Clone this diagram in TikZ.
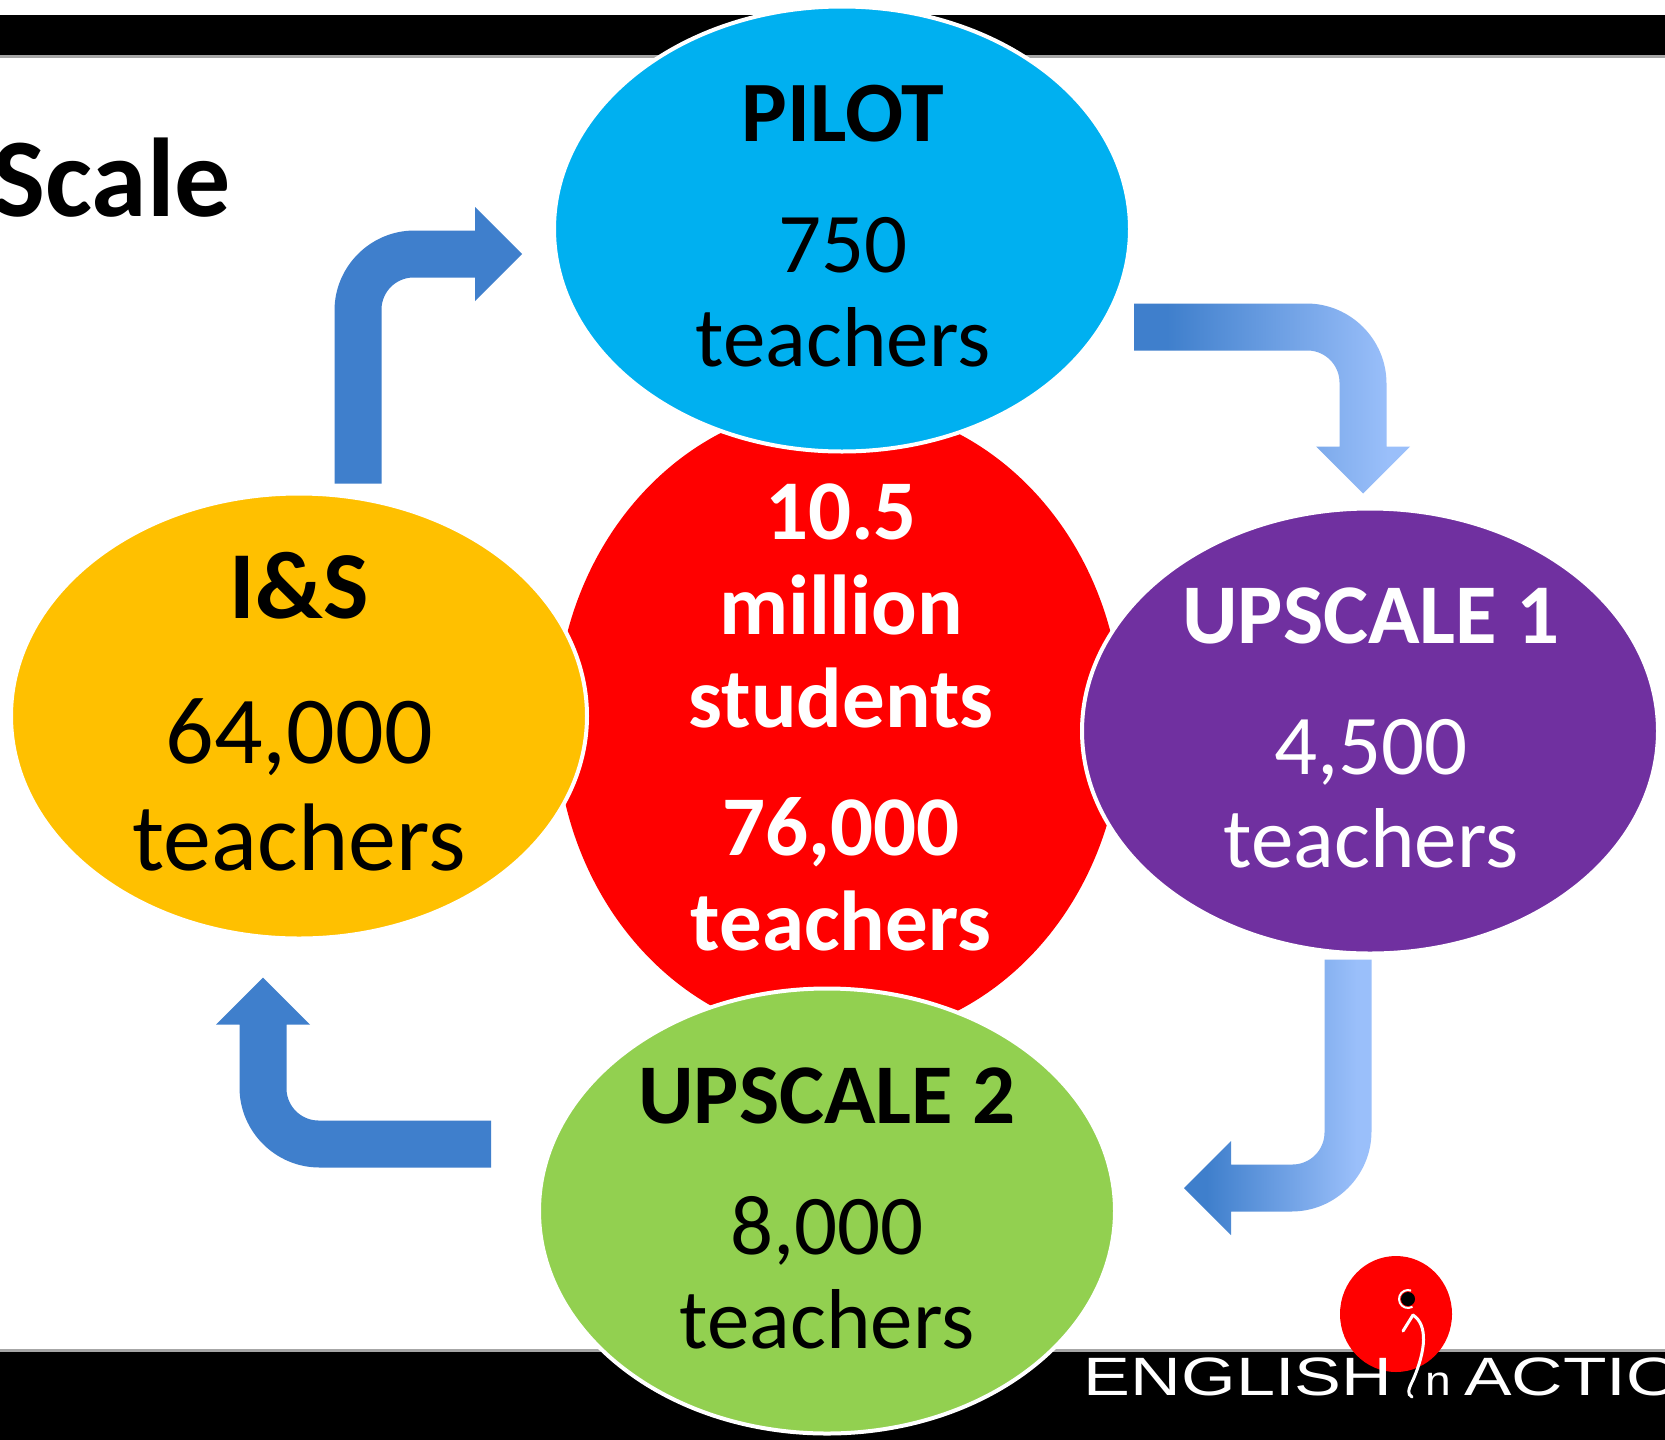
\documentclass[tikz,border=0pt]{standalone}
\usepackage{fontspec}
\usepackage{graphicx}
\usepackage{tikz}
\usetikzlibrary{shapes.geometric,calc}
\setmainfont{Carlito}
\newfontfamily\logofont{Liberation Sans}
\definecolor{pilotblue}{HTML}{00B0F0}
\definecolor{amber}{HTML}{FFC000}
\definecolor{upurple}{HTML}{7030A0}
\definecolor{ugreen}{HTML}{92D050}
\definecolor{arrowblue}{HTML}{3F7FCC}
\definecolor{arrowlight}{HTML}{9ABFFA}
\pgfdeclarehorizontalshading{fadeblue}{100bp}{color(0bp)=(arrowblue); color(31bp)=(arrowblue); color(71bp)=(arrowlight); color(100bp)=(arrowlight)}
\newcommand{\sz}[1]{\fontsize{#1}{#1}\selectfont}
\tikzset{
	stage/.style={ellipse,draw=white,line width=4,inner sep=0,minimum width=576,minimum height=445},
	lab/.style={anchor=base,inner sep=0,text=black},
	solidarrow/.style={fill=arrowblue},
	fadearrow/.style={shading=fadeblue},
}
% style, from, corner, to
\newcommand{\bendarrow}[4]{
	\coordinate (bf) at (#2);
	\coordinate (bc) at (#3);
	\coordinate (bt) at (#4);
	\coordinate (bh) at ($(bt)!47pt!(bc)$);
	\coordinate (bl) at ($(bc)!23.5pt!-90:(bf)$);
	\coordinate (br) at ($(bc)!23.5pt!90:(bt)$);
	\coordinate (bo) at ($(bl)+(br)-(bc)$);
	\coordinate (bi) at ($2*(bc)-(bo)$);
	\coordinate (fl) at ($(bf)!23.5pt!90:(bc)$);
	\coordinate (fr) at ($(bf)!23.5pt!-90:(bc)$);
	\coordinate (hl) at ($(bh)!23.5pt!90:(bt)$);
	\coordinate (hr) at ($(bh)!23.5pt!-90:(bt)$);
	\coordinate (ol) at ($(bo)!80pt!(fl)$);
	\coordinate (oh) at ($(bo)!80pt!(hl)$);
	\coordinate (il) at ($(bi)!32pt!(fr)$);
	\coordinate (ih) at ($(bi)!32pt!(hr)$);
	\path[#1] (fl) -- (ol) .. controls ($(ol)!.55!(bo)$) and ($(oh)!.55!(bo)$) .. (oh) -- (hl)
		-- ($(bh)!47pt!90:(bt)$) -- (bt) -- ($(bh)!47pt!-90:(bt)$) -- (hr)
		-- (ih) .. controls ($(ih)!.55!(bi)$) and ($(il)!.55!(bi)$) .. (il) -- (fr) -- cycle;
}
\begin{document}
\begin{tikzpicture}[x=1pt,y=-1pt]
	\useasboundingbox (0,0) rectangle (1665,1440);
	\begin{scope}
	\clip (0,0) rectangle (1665,1440);
	\fill[white] (0,0) rectangle (1665,1440);
	% bars
	\fill[black!35] (0,15) rectangle (1665,58);
	\fill[black] (0,15) rectangle (1665,55);
	\fill[black!35] (0,1349) rectangle (1665,1440);
	\fill[black] (0,1352) rectangle (1665,1440);
	\node (title) at(231,216) [anchor=base east,inner sep=0,font=\bfseries\sz{112}]{Scale};
	% logo
	\node (logodot) at(1396,1314) [ellipse,fill=red,inner sep=0,minimum width=112,minimum height=116]{};
	\fill[black] (1408,1299) circle(7);
	\draw[white,line width=2] (1408,1299) ++(290:9) arc[start angle=290,end angle=60,radius=9];
	\draw[white,line width=3,line cap=round] (1413,1315) .. controls (1428,1325) and (1426,1350) .. (1413,1380) .. controls (1408,1390) and (1407,1394) .. (1412,1397);
	\draw[white,line width=3,line cap=round] (1413,1315) -- (1403,1331);
	\node (logoleft) at(1238,1395) [anchor=base,inner sep=0,text=white,font=\logofont\sz{54}]{\scalebox{1.3}[1]{ENGLISH}};
	\node (logon) at(1438,1395) [anchor=base,inner sep=0,text=white,font=\logofont\sz{42}]{\scalebox{1.1}[1]{n}};
	\node (logoright) at(1464,1395) [anchor=base west,inner sep=0,text=white,font=\logofont\sz{54}]{\scalebox{1.32}[1]{ACTIO}};
	% ellipses
	\node (centre) at(839,722) [ellipse,fill=red,inner sep=0,minimum width=566,minimum height=636]{};
	\node (pilot) at(842,229) [stage,fill=pilotblue]{};
	\node (inspect) at(299,716) [stage,fill=amber]{};
	\node (upone) at(1370,731) [stage,fill=upurple]{};
	\node (uptwo) at(827,1211) [stage,fill=ugreen]{};
	% arrows
	\coordinate (pilotout) at ($(pilot.east)+(2,98)$);
	\coordinate (uponein) at ($(upone.north)+(-7,-13)$);
	\coordinate (uponeout) at ($(upone.south)+(-22,4)$);
	\coordinate (uptwoin) at ($(uptwo.east)+(67,-23)$);
	\coordinate (uptwoout) at ($(uptwo.west)+(-46,-67)$);
	\coordinate (inspectin) at ($(inspect.south)+(-36,37)$);
	\coordinate (inspectout) at ($(inspect.north)+(59,-8)$);
	\coordinate (pilotin) at ($(pilot.west)+(-30,25)$);
	\bendarrow{fadearrow}{pilotout}{uponein |- pilotout}{uponein}
	\bendarrow{fadearrow}{uponeout}{uponeout |- uptwoin}{uptwoin}
	\bendarrow{solidarrow}{uptwoout}{inspectin |- uptwoout}{inspectin}
	\bendarrow{solidarrow}{inspectout}{inspectout |- pilotin}{pilotin}
	% labels
	\node (pilotname) at(843,141) [lab,font=\bfseries\sz{86}]{PILOT};
	\node (pilotnum) at(843,272) [lab,font=\sz{85}]{750};
	\node (pilotword) at(843,366) [lab,font=\sz{85}]{teachers};
	\node (inspname) at(299,618) [lab,font=\bfseries\sz{96}]{I\&S};
	\node (inspnum) at(299,763) [lab,font=\sz{96}]{64,000};
	\node (inspword) at(299,870) [lab,font=\sz{96}]{teachers};
	\node (uponename) at(1371,643) [lab,text=white,font=\bfseries\sz{85}]{UPSCALE 1};
	\node (uponenum) at(1371,774) [lab,text=white,font=\sz{85}]{4,500};
	\node (uponeword) at(1371,867) [lab,text=white,font=\sz{85}]{teachers};
	\node (uptwoname) at(827,1123) [lab,font=\bfseries\sz{85}]{UPSCALE 2};
	\node (uptwonum) at(827,1254) [lab,font=\sz{85}]{8,000};
	\node (uptwoword) at(827,1348) [lab,font=\sz{85}]{teachers};
	\node (centnum) at(841,539) [lab,text=white,font=\bfseries\sz{85}]{10.5};
	\node (centmil) at(841,634) [lab,text=white,font=\bfseries\sz{85}]{million};
	\node (centstu) at(841,727) [lab,text=white,font=\bfseries\sz{85}]{students};
	\node (centtea) at(841,855) [lab,text=white,font=\bfseries\sz{85}]{76,000};
	\node (centword) at(841,950) [lab,text=white,font=\bfseries\sz{85}]{teachers};
	\end{scope}
\end{tikzpicture}
\end{document}
